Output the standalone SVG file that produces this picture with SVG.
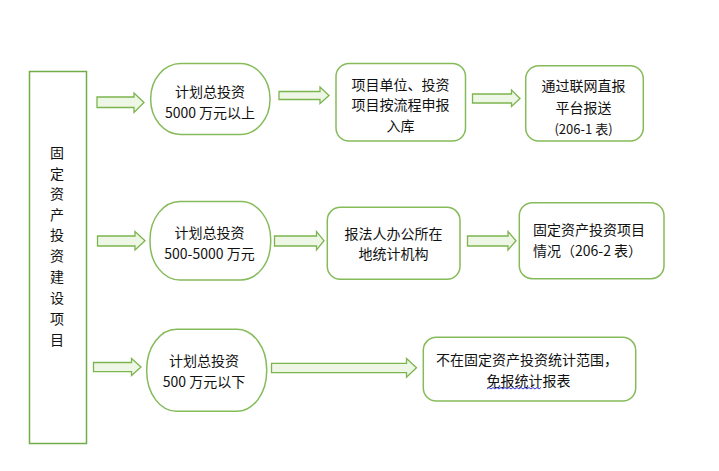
<svg xmlns="http://www.w3.org/2000/svg" width="719" height="471" viewBox="0 0 719 471">
<style>
text{font-family:"Noto Sans CJK SC","Noto Sans",sans-serif;font-size:14px;fill:#111;text-anchor:middle;dominant-baseline:central}
.box{fill:#fff;stroke:#86bb5a;stroke-width:1.5}
.arr{fill:#eef6e6;stroke:#7cb54e;stroke-width:1.3}
.l{text-anchor:start}
</style>
<rect width="719" height="471" fill="#fff"/>
<g id="main">
<rect x="29.5" y="71.5" width="57" height="372" fill="#fff" stroke="#70ad47" stroke-width="1.5"/>
<text x="57" y="152">固</text><text x="57" y="173">定</text><text x="57" y="193">资</text><text x="57" y="214">产</text><text x="57" y="234">投</text><text x="57" y="255">资</text><text x="57" y="276">建</text><text x="57" y="297">设</text><text x="57" y="318">项</text><text x="57" y="339">目</text>
</g>
<g id="connectors">
<polygon class="arr" points="97,97 134,97 134,93 144,102.5 134,112.5 134,107.5 97,107.5"/>
<polygon class="arr" points="279,91.5 320,91.5 320,87 329,95.5 320,103.5 320,99.5 279,99.5"/>
<polygon class="arr" points="472.5,94 511.5,94 511.5,90 520,98.5 511.5,106.5 511.5,103 472.5,103"/>
<polygon class="arr" points="97.5,236 135,236 135,231.5 145,240.7 135,250 135,246 97.5,246"/>
<polygon class="arr" points="274.5,236 316.5,236 316.5,231.5 324,240.7 316.5,250 316.5,246 274.5,246"/>
<polygon class="arr" points="467.5,236 508,236 508,231.5 516,240.7 508,250 508,246 467.5,246"/>
<polygon class="arr" points="93.5,362.5 131.5,362.5 131.5,358.5 141,367 131.5,375.5 131.5,371.7 93.5,371.7"/>
<polygon class="arr" points="271.5,363.3 406.5,363.3 406.5,358.5 416.5,367.8 406.5,377.3 406.5,372.7 271.5,372.7"/>
</g>
<g id="n1a">
<rect class="box" x="150.7" y="63.5" width="119.3" height="71" rx="30" ry="35"/>
<text x="210" y="90.5">计划总投资</text>
<text x="210" y="111.5">5000 万元以上</text>
</g>
<g id="n1b">
<rect class="box" x="336" y="63.5" width="129.5" height="77.5" rx="13" ry="13"/>
<text x="400.5" y="83.5">项目单位、投资</text>
<text x="400.5" y="104">项目按流程申报</text>
<text x="400.5" y="125">入库</text>
</g>
<g id="n1c">
<rect class="box" x="525.7" y="65.7" width="117.6" height="75.3" rx="13" ry="13"/>
<text x="583.5" y="85">通过联网直报</text>
<text x="583.5" y="106.5">平台报送</text>
<text x="583.5" y="128" style="font-size:13px">(206-1 表)</text>
</g>
<g id="n2a">
<rect class="box" x="150" y="201.5" width="120.7" height="78.5" rx="30" ry="38"/>
<text x="209.5" y="231.7">计划总投资</text>
<text x="209.5" y="253.3">500-5000 万元</text>
</g>
<g id="n2b">
<rect class="box" x="327.3" y="207.3" width="132.7" height="72" rx="13" ry="13"/>
<text x="393.5" y="232.7">报法人办公所在</text>
<text x="393.5" y="253.3">地统计机构</text>
</g>
<g id="n2c">
<rect class="box" x="519.3" y="202.7" width="144.7" height="76" rx="13" ry="13"/>
<text class="l" x="533" y="229.3">固定资产投资项目</text>
<text class="l" x="533" y="250">情况（206-2 表）</text>
</g>
<g id="n3a">
<rect class="box" x="146.7" y="329.3" width="120" height="82" rx="30" ry="40"/>
<text x="204" y="360">计划总投资</text>
<text x="204" y="380.7">500 万元以下</text>
</g>
<g id="n3b">
<rect class="box" x="423.3" y="337.3" width="212.4" height="63.7" rx="13" ry="13"/>
<text x="527" y="359.3">不在固定资产投资统计范围，</text>
<text x="528.5" y="380">免报统计报表</text>
<path d="M487,389 l2,-1.5 l2,1.5 l2,-1.5 l2,1.5 l2,-1.5 l2,1.5 l2,-1.5 l2,1.5 l2,-1.5 l2,1.5 l2,-1.5 l2,1.5 l2,-1.5 l2,1.5 l2,-1.5 l2,1.5 l2,-1.5 l2,1.5 l2,-1.5 l2,1.5 l2,-1.5 l2,1.5 l2,-1.5 l2,1.5 l2,-1.5 l2,1.5 l2,-1.5" fill="none" stroke="#3a3ad6" stroke-width="1"/>
</g>
</svg>
